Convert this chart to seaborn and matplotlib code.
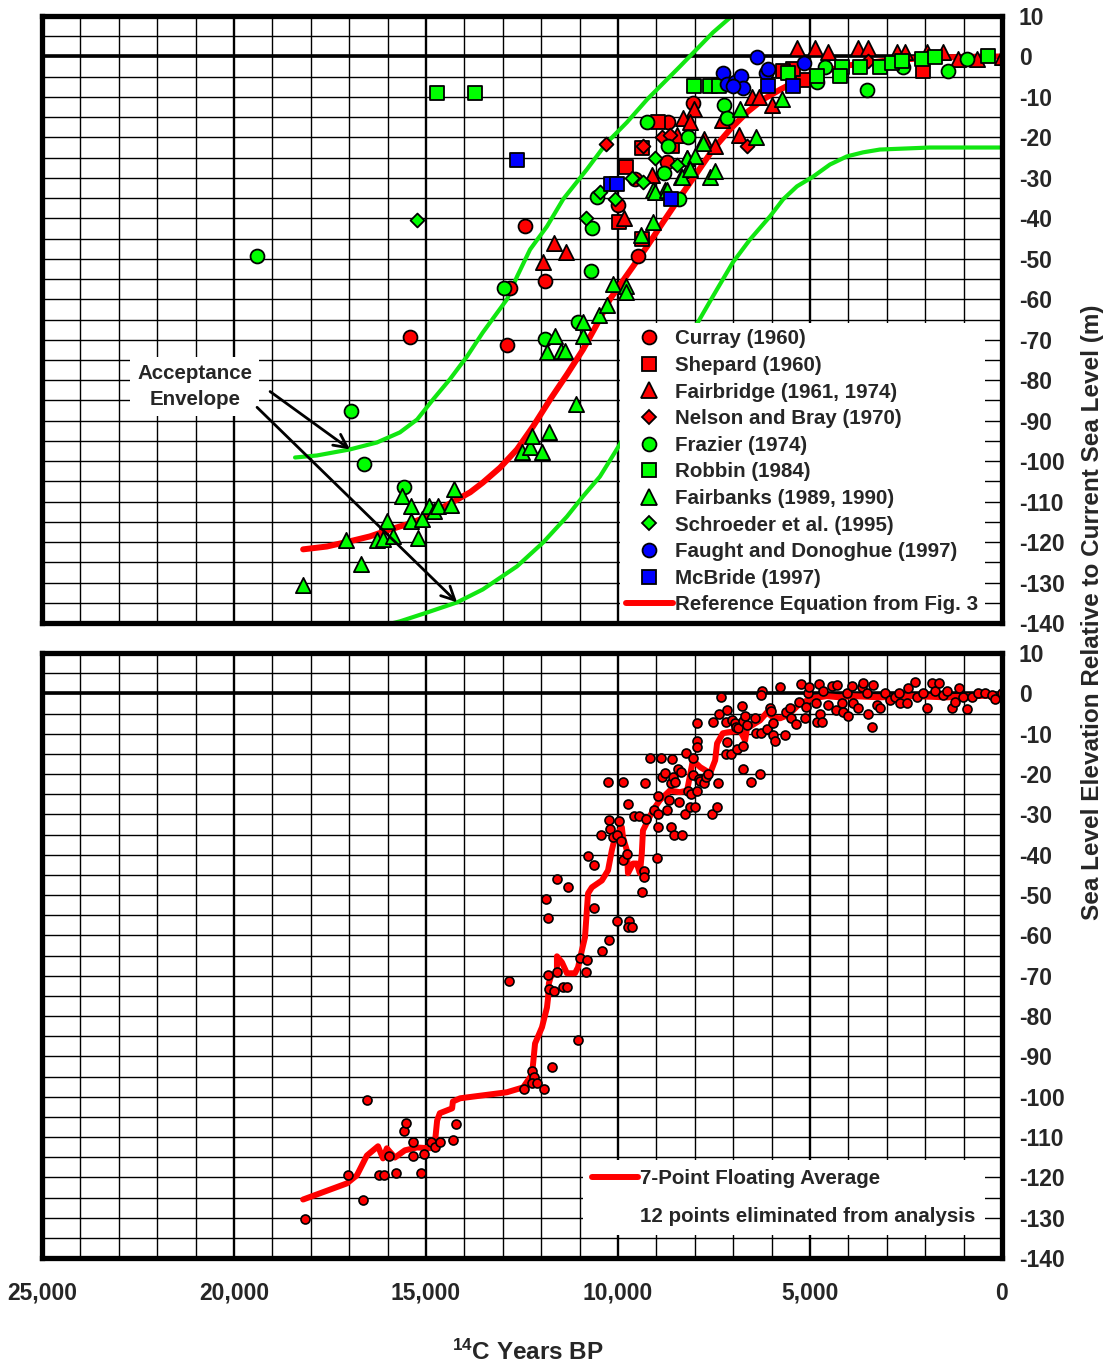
import numpy as np
import pandas as pd
import matplotlib
matplotlib.use("Agg")
import matplotlib.pyplot as plt
from matplotlib.lines import Line2D
import seaborn as sns

# ---------------- data: upper panel (individual studies) ----------------
curray_age = [15420, 12890, 12810, 12420, 11900, 10000, 9560, 9480, 8720, 8700, 8050]
curray_elev = [-69.4, -71.2, -57.3, -42.0, -55.6, -36.6, -30.4, -49.4, -26.2, -16.3, -11.4]

shepard_age = [9790, 9380, 8960, 8590, 9970, 9380, 5180, 5440, 2060, 5700]
shepard_elev = [-27.2, -22.5, -16.1, -22.2, -41.0, -45.2, -5.7, -3.2, -3.7, -3.7]

fairbridge_age = [11670, 11350, 11950, 9840, 9110, 8310, 8020, 8130, 8460, 7760, 7470, 6850,
                  7290, 6510, 6330, 5990, 5340, 4870, 4530, 3750, 3490, 2730, 2530, 1950,
                  1540, 1150, 650, 0]
fairbridge_elev = [-46.0, -48.2, -50.9, -40.0, -29.2, -15.1, -13.1, -16.1, -19.3, -20.5, -22.2, -19.3,
                   -15.6, -10.1, -9.9, -12.1, 2.2, 2.2, 1.2, 2.2, 2.2, 1.2, 1.2, 1.2,
                   1.2, -0.7, -0.7, -0.2]

nelson_age = [10310, 9350, 8850, 8650, 6640, 3490]
nelson_elev = [-21.7, -22.2, -19.8, -19.5, -22.2, -1.2]

frazier_age = [19400, 16950, 16610, 15570, 12970, 11900, 11040, 10700, 10680, 10550, 9240, 8700,
               8800, 8180, 8410, 7240, 7160, 4610, 4820, 3520, 2580, 1410, 910]
frazier_elev = [-49.2, -87.5, -100.8, -106.5, -57.3, -69.7, -65.5, -53.1, -42.5, -34.8, -16.1, -22.2,
                -28.7, -20.0, -35.1, -12.1, -15.1, -2.7, -6.2, -8.2, -2.5, -3.7, -0.7]

robbin_age = [14710, 13720, 8020, 7600, 7370, 5570, 4820, 4170, 4220, 3700, 3180, 2860, 2600,
              2080, 1740, 360]
robbin_elev = [-9.1, -9.1, -7.2, -7.2, -7.2, -4.0, -4.9, -2.5, -4.9, -2.7, -2.5, -1.5, -1.2,
               -0.7, -0.2, 0.0]

fairbanks_age = [18200, 17080, 16690, 16280, 16120, 15860, 16020, 15630, 15390, 15390, 15210, 15100,
                 14920, 14790, 14690, 14350, 14270, 12500, 12290, 12240, 11980, 11800, 11090, 11850,
                 11480, 11380, 11640, 10910, 10910, 10490, 10290, 10130, 9790, 9790, 9400, 9090,
                 9090, 8780, 8360, 8200, 8180, 6820, 5730, 6410, 7790, 8200, 7990, 8330, 7600,
                 7470, 9040, 8720, 8130]
fairbanks_elev = [-130.7, -119.6, -125.5, -119.6, -119.3, -118.6, -114.7, -108.5, -111.2, -114.7, -118.9, -114.4,
                  -111.2, -112.2, -111.2, -110.9, -107.0, -97.8, -96.4, -93.7, -97.8, -92.7, -86.0, -73.1,
                  -72.9, -72.9, -69.2, -69.2, -65.7, -64.0, -61.3, -56.3, -56.8, -58.3, -44.0, -40.8,
                  -33.1, -32.9, -29.9, -25.2, -27.9, -13.1, -10.6, -20.0, -21.3, -25.0, -24.7, -29.7, -29.7,
                  -28.4, -33.4, -32.9, -27.9]

schroeder_age = [15230, 10830, 10080, 9640, 9350, 9040, 8460, 10470]
schroeder_elev = [-40.3, -40.0, -35.1, -30.1, -31.1, -25.2, -26.7, -33.6]

faught_age = [6380, 7270, 7160, 6950, 6800, 6740, 6150, 6090, 5160, 7000]
faught_elev = [-0.2, -4.0, -6.7, -6.4, -4.9, -7.7, -4.0, -3.2, -1.5, -7.4]

mcbride_age = [12630, 10180, 10030, 8620, 6090, 5440]
mcbride_elev = [-25.7, -31.4, -31.4, -35.1, -7.4, -7.4]

# reference equation curve and acceptance envelope
ref_age = [18200, 17580, 16980, 16460, 15940, 15420, 14970, 14560, 14190, 13850, 13520, 13070,
           12630, 12210, 11770, 11330, 10910, 10550, 10210, 9610, 9240, 8830, 8390, 7940,
           7530, 7080, 6640, 6220, 5780, 5260, 4800, 4000, 3000, 2000, 1000, 0]
ref_elev = [-121.8, -121.1, -119.8, -118.6, -116.9, -115.4, -113.7, -111.4, -109.5, -107.7, -105.3, -101.6,
            -97.1, -91.4, -84.8, -78.6, -72.4, -66.2, -60.0, -51.9, -46.9, -41.0, -34.8, -28.7,
            -23.0, -18.0, -13.8, -10.6, -8.2, -5.6, -4.0, -2.2, -1.0, -0.4, -0.1, 0.0]

env_upper_age = [18410, 17840, 16980, 16280, 15680, 15230, 14820, 14380, 13930, 13520, 12890, 12630,
                 12290, 11850, 11430, 10810, 10290, 9770, 9240, 8390, 7530, 6900]
env_upper_elev = [-99.1, -98.6, -97.1, -95.4, -92.9, -89.7, -84.8, -79.8, -74.1, -68.2, -60.0, -54.4,
                  -47.7, -42.0, -35.3, -27.9, -21.3, -16.3, -10.6, -2.5, 5.9, 11.1]

env_lower_age = [16280, 15680, 14970, 14190, 13520, 12630, 11950, 11330, 10910, 10470, 9870, 9170,
                 8520, 7920, 7530, 7010, 6560, 6040, 5700, 5340, 4920, 4480, 4040, 3620,
                 3180, 1880, 0]
env_lower_elev = [-141.0, -139.6, -137.4, -134.9, -131.7, -126.0, -120.1, -113.7, -108.7, -103.8, -94.6, -84.8,
                  -74.9, -65.7, -59.3, -50.9, -45.2, -39.5, -35.3, -32.1, -29.7, -26.7, -24.7, -23.7,
                  -23.0, -22.5, -22.5]

# ---------------- data: lower panel (combined set) ----------------
all_age = [18150, 17030, 16640, 16540, 16220, 16090, 15960, 15780, 15570, 15520, 15340, 15340,
           15130, 15050, 14870, 14770, 14640, 14300, 14220, 12840, 12450, 12240, 12190, 12240,
           12110, 11930, 11720, 11040, 11820, 11800, 11670, 11590, 11430, 11330, 10990, 10810,
           10830, 11880, 11820, 11590, 11300, 10630, 10420, 10230, 10030, 9710, 9740, 9640,
           10780, 10630, 9870, 9770, 9380, 9320, 9320, 8980,
           10440, 10230, 10210, 10130, 10030, 9970, 9920, 10260, 9870, 9740, 9580, 9450,
           9270, 9300, 9170, 9060, 8960, 8960, 8960, 8880, 8850, 8780, 8720, 8670,
           8620, 8590, 8620, 8570, 8520, 8540, 8410, 8440, 8360, 8330, 8260, 8230,
           8180, 8130, 8100, 8050, 8050, 7990, 7940, 7940, 7940, 7940, 7890, 7860,
           7760, 7710, 7660, 7550, 7530, 7420, 7400, 7370, 7320, 7190, 7190, 7160,
           7160, 7060, 7030, 6950, 6930, 6900, 6880, 6770, 6740, 6740, 6740, 6690,
           6640, 6540, 6430, 6410, 6300, 6280, 6250, 6280, 6120, 6040, 6020, 5960,
           5960, 5910, 5780, 5650, 5630, 5520, 5490, 5360, 5290, 5230, 5130, 5100,
           5050, 5030, 4840, 4820, 4770, 4740, 4690, 4660, 4530, 4430, 4300, 4320,
           4170, 4140, 4040, 4010, 3910, 3880, 3750, 3650, 3620, 3490, 3390, 3520,
           3360, 3260, 3180, 3050, 2920, 2790, 2680, 2660, 2470, 2450, 2270, 2210,
           2060, 1950, 1820, 1740, 1640, 1540, 1430, 1300, 1220, 1120, 1020, 910,
           780, 630, 440, 260, 180, 0]
all_elev = [-130.4, -119.5, -125.5, -100.9, -119.5, -119.5, -114.6, -119.0, -108.6, -106.6, -111.3, -114.6,
            -119.0, -114.3, -111.3, -112.6, -111.3, -110.8, -106.9, -71.4, -98.2, -93.7, -95.2, -96.7,
            -96.7, -98.2, -92.7, -86.0, -69.9, -73.4, -73.9, -69.2, -72.9, -72.9, -65.5, -66.0,
            -69.2, -51.1, -55.8, -46.1, -48.1, -53.3, -64.0, -61.2, -56.5, -56.5, -58.0, -58.0,
            -40.4, -42.6, -41.2, -39.9, -49.3, -44.1, -45.6, -40.9,
            -35.0, -31.5, -33.7, -35.7, -35.0, -31.7, -36.7, -22.1, -22.1, -27.5, -30.3, -30.5,
            -31.2, -22.3, -16.1, -29.0, -25.5, -29.8, -33.2, -16.1, -20.8, -19.8, -29.0, -26.5,
            -33.2, -16.4, -22.3, -20.8, -22.1, -35.2, -27.0, -18.8, -19.6, -35.2, -29.8, -14.9,
            -24.3, -28.3, -25.0, -20.3, -16.1, -28.3, -11.9, -13.4, -24.3, -7.4, -21.3, -21.8,
            -22.3, -20.8, -20.1, -29.8, -7.2, -28.3, -22.3, -5.0, -1.0, -15.1, -7.2, -4.2,
            -12.1, -15.1, -6.7, -7.4, -8.4, -13.9, -8.7, -3.2, -13.1, -18.8, -6.9, -5.5,
            -7.9, -22.1, -6.2, -9.9, -20.1, -9.9, 0.5, -0.5, -8.9, -3.7, -4.5, -7.4,
            -10.4, -11.9, 1.5, -10.4, -4.7, -3.7, -6.0, -7.7, -2.2, 2.2, -6.0, -3.5,
            0.0, 1.5, -2.5, -7.2, 2.2, -5.0, -7.2, 0.7, -3.0, 1.7, 2.0, -4.2,
            -2.5, -4.7, 0.2, -5.5, 1.7, -2.5, -3.7, 1.5, 2.5, -5.0, -8.4, 0.2,
            2.0, -3.0, -3.7, 0.2, -1.7, -1.0, 0.2, -2.5, -2.5, 1.2, 2.7, -1.0,
            0.0, -3.7, 2.5, 0.7, 2.5, -0.5, 0.7, -3.7, -2.2, 1.2, -1.0, -4.0,
            -1.0, 0.2, 0.0, -0.5, -1.5, 0.0]

avg_age = [18200, 17060, 16800, 16540, 16250, 16120, 16020, 15810, 15550, 15230, 14900, 14770,
           14710, 14640, 14320, 14300, 14110, 12890, 12470, 12240, 12210, 12160, 11980, 11850,
           11820, 11800, 11740, 11590, 11590, 11460, 11330, 11120, 11040, 10940, 10860, 10780,
           10680, 10420, 10260, 10160, 10080, 9900, 9870, 9770, 9740, 9610, 9510, 9430,
           9380, 9350, 9220, 9090, 8910, 8650, 8390, 8200, 8050, 7860, 7600, 7470,
           7420, 7270, 7160, 6820, 6690, 6640, 6300, 6120, 5960, 5780, 5600, 5440,
           5260, 5050, 4920, 4560, 4220, 3880, 3180, 2320, 1430, 760, 130]
avg_elev = [-125.5, -121.5, -119.5, -114.6, -112.3, -115.3, -112.8, -115.1, -113.3, -112.6, -112.8, -111.6,
            -105.9, -104.1, -102.9, -101.2, -100.4, -98.9, -97.7, -94.5, -91.7, -86.8, -82.8, -77.9,
            -75.4, -71.9, -69.9, -69.4, -65.2, -66.7, -69.4, -69.4, -67.9, -63.7, -60.5, -49.6,
            -48.1, -46.4, -43.9, -38.9, -35.7, -33.2, -35.7, -38.9, -44.6, -42.2, -42.2, -44.6,
            -39.7, -34.0, -31.5, -29.0, -26.5, -24.1, -24.5, -24.1, -16.6, -18.3, -19.8, -16.6,
            -12.4, -9.9, -9.7, -9.2, -11.7, -8.7, -6.7, -4.7, -6.0, -6.2, -5.5, -4.2,
            -2.5, -1.7, -1.2, -0.7, -1.0, -0.7, -1.0, -0.7, -1.0, -0.7, -0.5]

# ---------------- axis labelling ----------------
x_tick_values = [25000, 20000, 15000, 10000, 5000, 0]
x_tick_labels = ["25,000", "20,000", "15,000", "10,000", "5,000", "0"]
y_tick_values = list(range(10, -141, -10))
y_tick_labels = [str(v) for v in y_tick_values]

RED = "#FF0000"
GREEN = "#00FF00"
BLUE = "#0000FF"
LINE_GREEN = "#11E611"

sns.set_style("white")
plt.rcParams["font.family"] = ["Liberation Sans", "DejaVu Sans"]
plt.rcParams["font.weight"] = "bold"
plt.rcParams["axes.unicode_minus"] = False
plt.rcParams["mathtext.fontset"] = "custom"
plt.rcParams["mathtext.rm"] = "Liberation Sans:bold"
plt.rcParams["mathtext.bf"] = "Liberation Sans:bold"
plt.rcParams["mathtext.it"] = "Liberation Sans:bold"

W, H = 1109, 1366
fig = plt.figure(figsize=(W / 100, H / 100), dpi=100)
ax1 = fig.add_axes([42 / W, 1 - 623 / H, 960 / W, 607 / H])
ax2 = fig.add_axes([42 / W, 1 - 1258 / H, 960 / W, 605 / H])

TICK_FS = 16.5
LEG_FS = 14.8


def frame(ax, show_x):
    ax.set_xlim(25000, 0)
    ax.set_ylim(-140, 10)
    ax.set_xticks(x_tick_values)
    ax.set_xticks(np.arange(0, 25001, 1000), minor=True)
    ax.set_yticks(y_tick_values)
    ax.set_yticks(np.arange(-140, 11, 5), minor=True)
    ax.set_axisbelow(True)
    ax.grid(which="major", axis="x", color="black", lw=1.7)
    ax.grid(which="minor", axis="x", color="black", lw=1.0)
    ax.grid(which="both", axis="y", color="black", lw=1.0)
    ax.axhline(0, color="black", lw=2.6, zorder=1)
    ax.yaxis.tick_right()
    ax.set_yticklabels(y_tick_labels, fontsize=TICK_FS, fontweight="bold")
    ax.tick_params(which="both", length=0)
    ax.tick_params(axis="y", pad=12)
    if show_x:
        ax.set_xticklabels(x_tick_labels, fontsize=TICK_FS, fontweight="bold")
        ax.tick_params(axis="x", pad=17)
    else:
        ax.tick_params(axis="x", labelbottom=False)
    for s in ax.spines.values():
        s.set_visible(True)
        s.set_color("black")
        s.set_linewidth(3.8)
        s.set_zorder(6)
    ax.set_xlabel("")
    ax.set_ylabel("")


# ---------------- upper panel ----------------
sns.lineplot(x=env_upper_age, y=env_upper_elev, sort=False, estimator=None, color=LINE_GREEN,
             lw=3.0, ax=ax1, zorder=2, legend=False)
sns.lineplot(x=env_lower_age, y=env_lower_elev, sort=False, estimator=None, color=LINE_GREEN,
             lw=3.0, ax=ax1, zorder=2, legend=False)
sns.lineplot(x=ref_age, y=ref_elev, sort=False, estimator=None, color=RED, lw=4.3, ax=ax1,
             zorder=2.5, legend=False)
for ln in ax1.get_lines():
    ln.set_solid_joinstyle("round")

series = [
    ("Curray (1960)", curray_age, curray_elev, "o", RED, 100),
    ("Shepard (1960)", shepard_age, shepard_elev, "s", RED, 88),
    ("Fairbridge (1961, 1974)", fairbridge_age, fairbridge_elev, "^", RED, 120),
    ("Nelson and Bray (1970)", nelson_age, nelson_elev, "D", RED, 50),
    ("Frazier (1974)", frazier_age, frazier_elev, "o", GREEN, 100),
    ("Robbin (1984)", robbin_age, robbin_elev, "s", GREEN, 88),
    ("Fairbanks (1989, 1990)", fairbanks_age, fairbanks_elev, "^", GREEN, 120),
    ("Schroeder et al. (1995)", schroeder_age, schroeder_elev, "D", GREEN, 50),
    ("Faught and Donoghue (1997)", faught_age, faught_elev, "o", BLUE, 100),
    ("McBride (1997)", mcbride_age, mcbride_elev, "s", BLUE, 88),
]
handles = []
for i, (name, xs, ys, mk, col, size) in enumerate(series):
    sns.scatterplot(x=xs, y=ys, marker=mk, s=size, color=col, edgecolor="black", linewidth=1.3,
                    ax=ax1, zorder=3 + i * 0.01, legend=False)
    handles.append(Line2D([], [], ls="none", marker=mk, markersize=np.sqrt(size),
                          markerfacecolor=col, markeredgecolor="black", markeredgewidth=1.3,
                          label=name))
handles.append(Line2D([], [], color=RED, lw=4.3, label="Reference Equation from Fig. 3"))

frame(ax1, show_x=False)

leg1 = ax1.legend(handles=handles, loc="lower right", bbox_to_anchor=(0.982, 0.004),
                  borderaxespad=0, frameon=True, fancybox=False, framealpha=1,
                  facecolor="white", edgecolor="none", handlelength=2.3,
                  handletextpad=0.12, labelspacing=0.37, borderpad=0.3,
                  prop={"weight": "bold", "size": LEG_FS})
leg1.set_zorder(5)

ax1.text(21020, -81.5, "Acceptance\nEnvelope", ha="center", va="center", fontsize=LEG_FS,
         fontweight="bold", linespacing=1.45, zorder=4,
         bbox=dict(facecolor="white", edgecolor="none", pad=5))
arrow_kw = dict(arrowstyle="->", color="black", lw=2.0, mutation_scale=24, shrinkA=0, shrinkB=0)
ax1.annotate("", xy=(16980, -97.1), xytext=(19060, -82.8), arrowprops=arrow_kw, zorder=4)
ax1.annotate("", xy=(14190, -134.9), xytext=(19400, -86.7), arrowprops=arrow_kw, zorder=4)

# ---------------- lower panel ----------------
sns.lineplot(x=avg_age, y=avg_elev, sort=False, estimator=None, color=RED, lw=4.3, ax=ax2,
             zorder=2.5, legend=False)
sns.scatterplot(x=all_age, y=all_elev, marker="o", s=42, color=RED, edgecolor="black",
                linewidth=1.2, ax=ax2, zorder=3, legend=False)
frame(ax2, show_x=True)

h2 = [Line2D([], [], color=RED, lw=4.3, label="7-Point Floating Average"),
      Line2D([], [], color="none", lw=0, label="12 points eliminated from analysis")]
leg2 = ax2.legend(handles=h2, loc="lower right", bbox_to_anchor=(0.982, 0.038),
                  borderaxespad=0, frameon=True, fancybox=False, framealpha=1,
                  facecolor="white", edgecolor="none", handlelength=2.25,
                  handletextpad=0.1, labelspacing=0.92, borderpad=0.45,
                  prop={"weight": "bold", "size": LEG_FS})
leg2.set_zorder(5)

# ---------------- figure labels ----------------
fig.text(1093 / W, 1 - 612 / H, "Sea Level Elevation Relative to Current Sea Level (m)",
         rotation=90, ha="center", va="center", fontsize=17.5, fontweight="bold")
fig.text(528 / W, 1 - 1352 / H, r"$^{14}$C Years BP", ha="center", va="center",
         fontsize=17.5, fontweight="bold")

fig.savefig("out.png", dpi=100)
